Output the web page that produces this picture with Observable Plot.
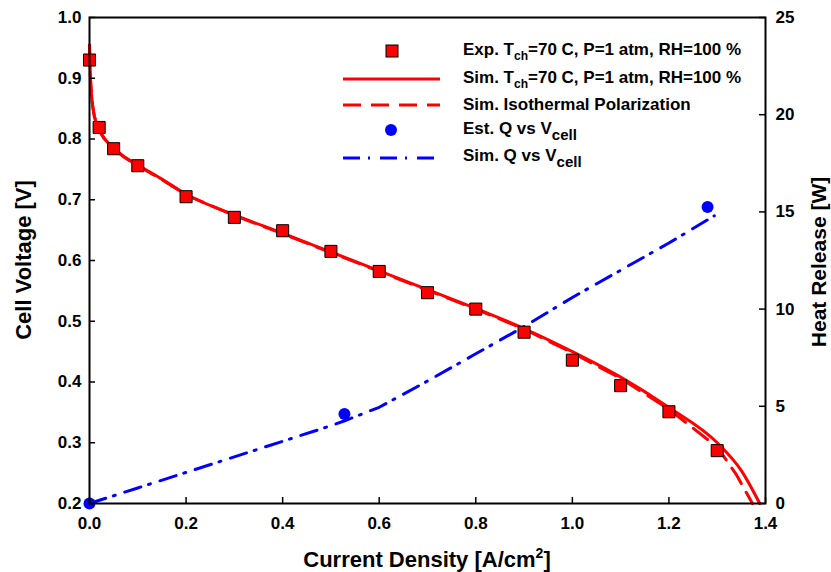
<!DOCTYPE html>
<html><head><meta charset="utf-8">
<script src="https://cdn.jsdelivr.net/npm/d3@7"></script>
<script src="https://cdn.jsdelivr.net/npm/@observablehq/plot@0.6"></script>
<style>
body{margin:0;background:#fff}
#chart{position:relative;width:831px;height:572px}
</style>
</head><body><div id="chart"></div>
<script>
// Experimental polarization (current density A/cm2, cell voltage V)
const expI = [0, 0.02, 0.05, 0.1, 0.2, 0.3, 0.4, 0.5, 0.6, 0.7, 0.8, 0.9, 1.0, 1.1, 1.2, 1.3];
const expV = [0.93, 0.819, 0.784, 0.756, 0.705, 0.671, 0.649, 0.615, 0.582, 0.547, 0.520, 0.482, 0.436, 0.394, 0.351, 0.287];
// Simulated polarization
const simI = [0, 0.002, 0.005, 0.01, 0.02, 0.03, 0.05, 0.07, 0.1, 0.15, 0.2, 0.3, 0.4, 0.5, 0.6, 0.7, 0.8, 0.9, 1.0, 1.1, 1.2, 1.3, 1.35, 1.388];
const simV = [0.955, 0.9, 0.865, 0.838, 0.815, 0.802, 0.785, 0.772, 0.757, 0.734, 0.709, 0.675, 0.645, 0.614, 0.583, 0.552, 0.521, 0.488, 0.450, 0.408, 0.358, 0.300, 0.254, 0.2];
// Simulated isothermal polarization
const isoI = [0, 0.002, 0.005, 0.01, 0.02, 0.03, 0.05, 0.07, 0.1, 0.15, 0.2, 0.3, 0.4, 0.5, 0.6, 0.7, 0.8, 0.9, 1.0, 1.1, 1.2, 1.3, 1.34, 1.373];
const isoV = [0.954, 0.899, 0.864, 0.837, 0.814, 0.801, 0.784, 0.771, 0.756, 0.733, 0.708, 0.674, 0.644, 0.613, 0.582, 0.551, 0.520, 0.487, 0.448, 0.406, 0.355, 0.293, 0.247, 0.2];
// Estimated heat release (W)
const qEstI = [0, 0.528, 1.28];
const qEstQ = [0, 4.6, 15.25];
// Simulated heat release (W)
const qSimI = [0, 0.1, 0.2, 0.3, 0.4, 0.5, 0.53, 0.6, 0.7, 0.8, 0.9, 1.0, 1.1, 1.2, 1.294];
const qSimQ = [0, 0.8, 1.6, 2.4, 3.2, 4.0, 4.27, 4.95, 6.3, 7.7, 9.1, 10.6, 12.0, 13.4, 14.8];
// Tick labels
const xTicks = [0, 0.2, 0.4, 0.6, 0.8, 1.0, 1.2, 1.4];
const vTicks = [0.2, 0.3, 0.4, 0.5, 0.6, 0.7, 0.8, 0.9, 1.0];
const qTicks = [0, 5, 10, 15, 20, 25];

const W = 831, H = 572, mL = 89, mR = 66, mT = 17, mB = 69;
const plotW = W - mL - mR, plotH = H - mT - mB;
const FONT = "'Liberation Sans', Arial, Helvetica, sans-serif";
const RED = "#ff0000", BLUE = "#0000ff";

const qToV = d3.scaleLinear().domain([0, 25]).range([0.2, 1.0]);
const exp = expI.map((x, i) => ({x, v: expV[i]}));
const sim = simI.map((x, i) => ({x, v: simV[i]}));
const iso = isoI.map((x, i) => ({x, v: isoV[i]}));
const qEst = qEstI.map((x, i) => ({x, q: qEstQ[i]}));
const qSim = qSimI.map((x, i) => ({x, q: qSimQ[i]}));

const svg = Plot.plot({
  width: W, height: H,
  marginLeft: mL, marginRight: mR, marginTop: mT, marginBottom: mB,
  x: {domain: [0, 1.4]},
  y: {domain: [0.2, 1.0]},
  style: {fontFamily: FONT, fontSize: "17px", fontWeight: "bold", color: "#000", background: "#fff", overflow: "visible"},
  marks: [
    Plot.line(iso, {x: "x", y: "v", stroke: RED, strokeWidth: 3, strokeDasharray: "18,10"}),
    Plot.line(sim, {x: "x", y: "v", stroke: RED, strokeWidth: 3, curve: "monotone-x"}),
    Plot.line(qSim, {x: "x", y: d => qToV(d.q), stroke: BLUE, strokeWidth: 3, strokeDasharray: "17,8,2,10"}),
    Plot.dot(exp, {x: "x", y: "v", symbol: "square", r: 6.8, fill: RED, stroke: "#000", strokeWidth: 1}),
    Plot.dot(qEst, {x: "x", y: d => qToV(d.q), r: 6, fill: BLUE}),
    Plot.tickX(xTicks, {x: d => d, insetTop: plotH - 6, stroke: "#000", strokeWidth: 1.5}),
    Plot.tickY(vTicks, {y: d => d, insetRight: plotW - 6, stroke: "#000", strokeWidth: 1.5}),
    Plot.tickY(qTicks.map(q => qToV(q)), {y: d => d, insetLeft: plotW - 6, stroke: "#000", strokeWidth: 1.5}),
    Plot.axisX(xTicks, {tickSize: 0, tickPadding: 13, tickFormat: d3.format(".1f"), label: null, fontSize: 17, fontWeight: "bold"}),
    Plot.axisY(vTicks, {anchor: "left", tickSize: 0, tickPadding: 8, tickFormat: d3.format(".1f"), label: null, fontSize: 17, fontWeight: "bold"}),
    Plot.axisY(qTicks.map(q => qToV(q)), {anchor: "right", tickSize: 0, tickPadding: 10, tickFormat: d => String(Math.round(qToV.invert(d))), label: null, fontSize: 17, fontWeight: "bold"}),
    Plot.frame({stroke: "#000", strokeWidth: 2})
  ]
});
document.getElementById("chart").appendChild(svg);

const s = d3.select(svg);
// Axis titles
s.append("text").attr("transform", "translate(31,260) rotate(-90)")
  .attr("text-anchor", "middle").attr("font-family", FONT).attr("font-weight", "bold").attr("font-size", 22)
  .attr("fill", "#000").text("Cell Voltage [V]");
s.append("text").attr("transform", "translate(826,262) rotate(-90)")
  .attr("text-anchor", "middle").attr("font-family", FONT).attr("font-weight", "bold").attr("font-size", 21)
  .attr("fill", "#000").text("Heat Release [W]");
const xt = s.append("text").attr("x", 427).attr("y", 567).attr("text-anchor", "middle")
  .attr("font-family", FONT).attr("font-weight", "bold").attr("font-size", 22).attr("fill", "#000");
xt.append("tspan").text("Current Density [A/cm");
xt.append("tspan").attr("font-size", 14).attr("dy", -9).text("2");
xt.append("tspan").attr("dy", 9).text("]");

// Legend
const lg = s.append("g").attr("font-family", FONT).attr("font-weight", "bold").attr("font-size", 17)
  .attr("fill", "#000").attr("text-anchor", "start");
const sym0 = 343, sym1 = 440, tx = 463;
function label(y, parts) {
  // y is the vertical centre of the capital letters
  const t = lg.append("text").attr("x", tx).attr("y", y + 6).attr("text-anchor", "start");
  parts.forEach(p => {
    if (p.sub) {
      t.append("tspan").attr("font-size", p.size).attr("dy", p.shift).text(p.sub);
    } else if (p.back) {
      t.append("tspan").attr("dy", p.back).text(p.t);
    } else t.append("tspan").text(p.t);
  });
  return t;
}
lg.append("rect").attr("x", 392 - 6).attr("y", 51 - 6).attr("width", 12).attr("height", 12)
  .attr("fill", RED).attr("stroke", "#000").attr("stroke-width", 1);
label(49, [{t: "Exp. T"}, {sub: "ch", size: 12, shift: 5}, {t: "=70 C, P=1 atm, RH=100 %", back: -5}]);
lg.append("line").attr("x1", sym0).attr("x2", sym1).attr("y1", 79).attr("y2", 79).attr("stroke", RED).attr("stroke-width", 3);
label(77, [{t: "Sim. T"}, {sub: "ch", size: 12, shift: 5}, {t: "=70 C, P=1 atm, RH=100 %", back: -5}]);
lg.append("line").attr("x1", sym0).attr("x2", sym1).attr("y1", 105).attr("y2", 105).attr("stroke", RED).attr("stroke-width", 3).attr("stroke-dasharray", "18,10");
label(104, [{t: "Sim. Isothermal Polarization"}]);
lg.append("circle").attr("cx", 391).attr("cy", 130).attr("r", 6).attr("fill", BLUE);
label(128, [{t: "Est. Q vs V"}, {sub: "cell", size: 15, shift: 6}]);
lg.append("line").attr("x1", sym0).attr("x2", sym1).attr("y1", 158).attr("y2", 158).attr("stroke", BLUE).attr("stroke-width", 3).attr("stroke-dasharray", "17,8,2,10");
label(155, [{t: "Sim. Q vs V"}, {sub: "cell", size: 15, shift: 6}]);
</script>
</body></html>
